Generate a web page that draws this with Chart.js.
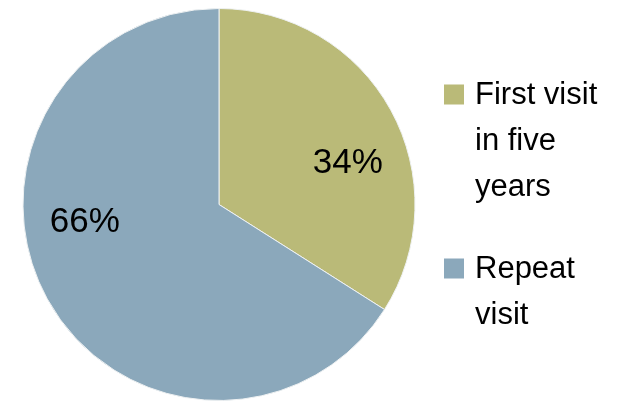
<!DOCTYPE html>
<html lang="en">
<head>
  <meta charset="UTF-8">
  <title>Visit type</title>
  <script src="https://cdn.jsdelivr.net/npm/chart.js"></script>
  <style>
    body { margin: 0; padding: 0; background: #fff; }
    #wrap { width: 629px; height: 401px; }
  </style>
</head>
<body>
  <div id="wrap"><canvas id="visitChart" width="629" height="401"></canvas></div>
  <script>
    // legend labels, one entry per line of text
    const categories = [['First visit', 'in five', 'years'], ['Repeat', 'visit']];
    const shares = [34, 66];
    const sliceColors = ['#BABA78', '#8BA8BB'];

    const FONT = "'Liberation Sans', Arial, sans-serif";

    // percentage text inside each slice
    const sliceLabels = {
      id: 'sliceLabels',
      afterDatasetsDraw(chart, args, opts) {
        const ctx = chart.ctx;
        const meta = chart.getDatasetMeta(0);
        ctx.save();
        ctx.font = opts.size + 'px ' + FONT;
        ctx.fillStyle = '#000';
        ctx.textAlign = 'center';
        ctx.textBaseline = 'middle';
        meta.data.forEach((arc, i) => {
          const p = arc.getProps(['x', 'y', 'startAngle', 'endAngle', 'outerRadius'], true);
          const a = p.startAngle + (p.endAngle - p.startAngle) * opts.angleFrac;
          const r = p.outerRadius * opts.radiusFrac;
          ctx.fillText(shares[i] + '%', p.x + Math.cos(a) * r, p.y + Math.sin(a) * r);
        });
        ctx.restore();
      }
    };

    // legend to the right with wrapped labels
    const sideLegend = {
      id: 'sideLegend',
      afterDraw(chart, args, opts) {
        const ctx = chart.ctx;
        const area = chart.chartArea;
        const lineCount = categories.reduce((n, c) => n + c.length, 0);
        const total = lineCount * opts.lineHeight + (categories.length - 1) * opts.gap;
        let y = (area.top + area.bottom) / 2 - total / 2 + opts.lineHeight / 2;
        const x = area.right + opts.offset;
        ctx.save();
        ctx.font = opts.size + 'px ' + FONT;
        ctx.textBaseline = 'middle';
        ctx.textAlign = 'left';
        categories.forEach((lines, i) => {
          ctx.fillStyle = sliceColors[i];
          ctx.fillRect(x, y - opts.box / 2, opts.box, opts.box);
          ctx.fillStyle = '#000';
          lines.forEach(line => {
            ctx.fillText(line, x + opts.box + opts.textGap, y + 1);
            y += opts.lineHeight;
          });
          y += opts.gap;
        });
        ctx.restore();
      }
    };

    new Chart(document.getElementById('visitChart'), {
      type: 'pie',
      data: {
        labels: categories,
        datasets: [{
          data: shares,
          backgroundColor: sliceColors,
          borderColor: '#EEF1F2',
          borderWidth: 1
        }]
      },
      options: {
        responsive: false,
        animation: false,
        layout: { padding: { left: 22, right: 213, top: 8, bottom: -1 } },
        plugins: {
          legend: { display: false },
          tooltip: { enabled: false },
          sliceLabels: { size: 35, angleFrac: 0.59, radiusFrac: 0.69 },
          sideLegend: { size: 31, lineHeight: 46, gap: 36, box: 20, textGap: 11, offset: 28 }
        }
      },
      plugins: [sliceLabels, sideLegend]
    });
  </script>
</body>
</html>
